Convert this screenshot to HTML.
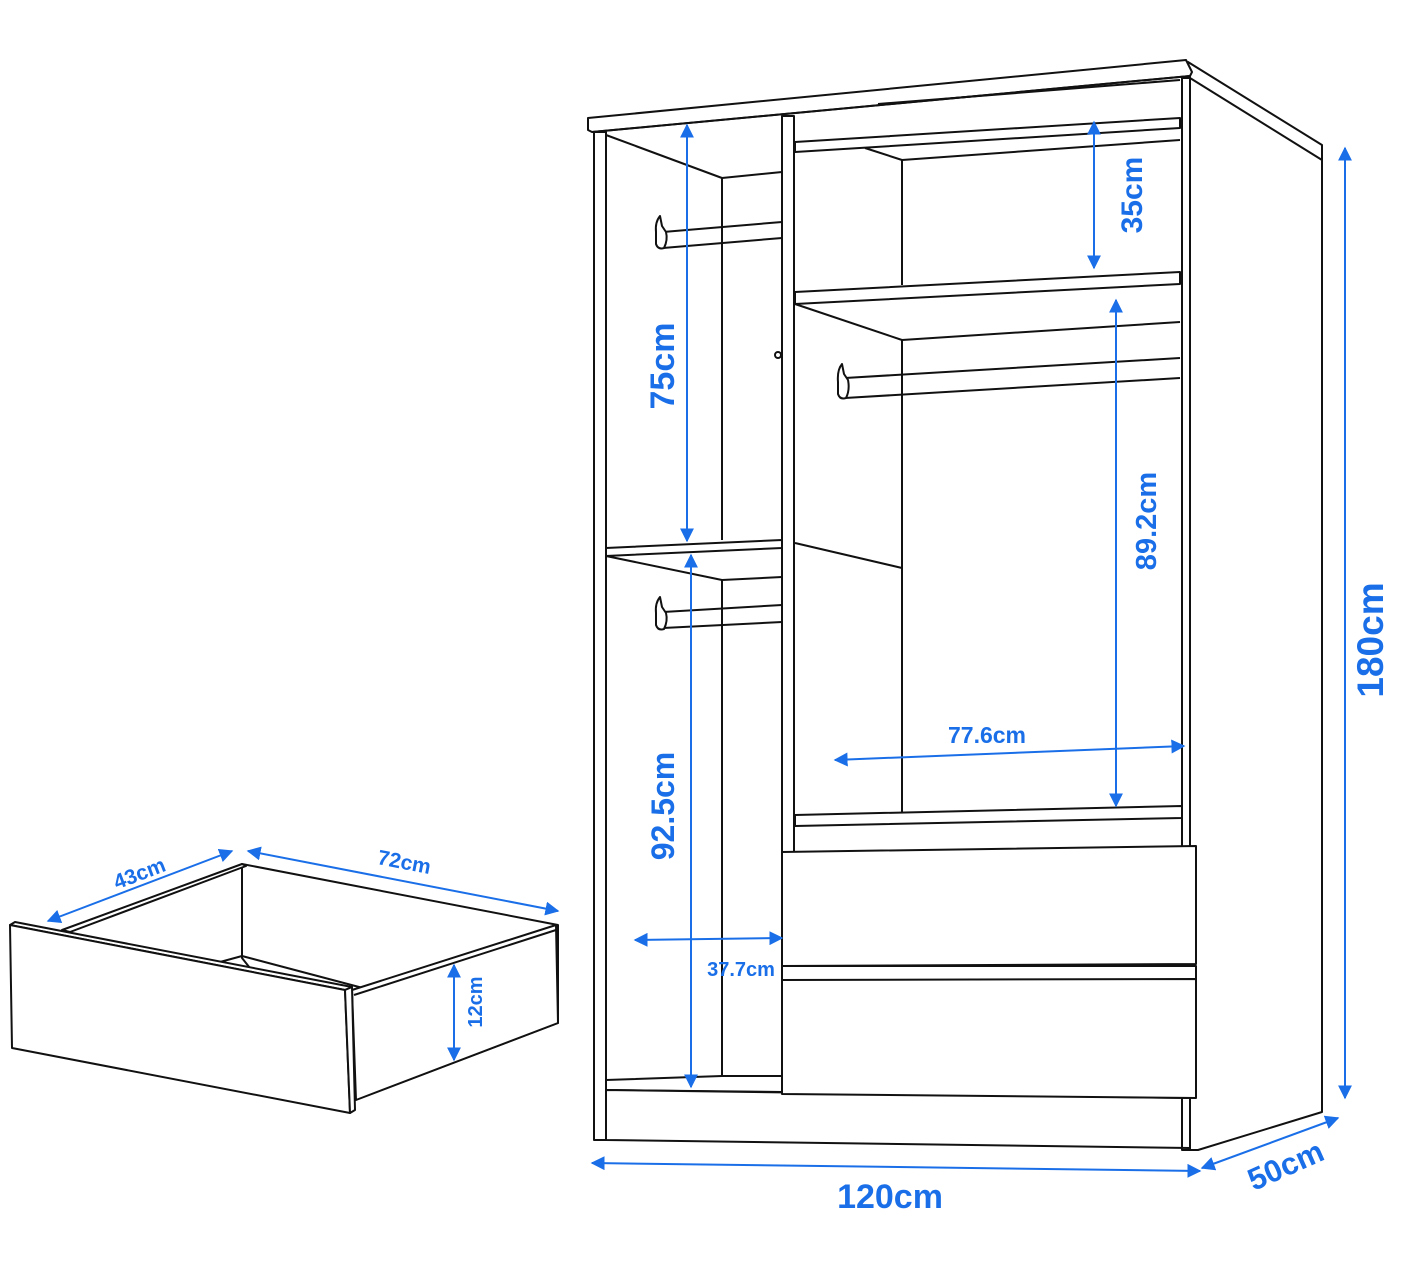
<!DOCTYPE html>
<html><head><meta charset="utf-8"><style>
html,body{margin:0;padding:0;background:#fff;}
svg{display:block;}
.l{stroke:#111;stroke-width:2;fill:none;stroke-linejoin:round;}
.w{stroke:#111;stroke-width:2;fill:#fff;stroke-linejoin:round;}
.b{stroke:#1a6fe8;stroke-width:2;fill:none;}
text{font-family:"Liberation Sans",sans-serif;font-weight:bold;fill:#1a6fe8;}
</style></head><body>
<svg width="1406" height="1265" viewBox="0 0 1406 1265" xmlns="http://www.w3.org/2000/svg">
<defs>
<marker id="a" viewBox="0 0 10 10" refX="9" refY="5" markerWidth="7" markerHeight="7" orient="auto-start-reverse"><path d="M0,0 L10,5 L0,10 z" fill="#1a6fe8"/></marker>
</defs>
<polygon class="w" points="1188,62 1322,145 1322,1112 1198,1150 1190,1150 1190,78"/>
<line class="l" x1="1190" y1="78" x2="1322" y2="160"/>
<polygon class="w" points="588,118 1186,60 1192,72 1190,76 592,132 588,130"/>
<line class="l" x1="592" y1="132" x2="1190" y2="76"/>
<line class="l" x1="878" y1="104" x2="1180" y2="80"/>
<rect class="w" x="594" y="132" width="12" height="1008"/>
<rect class="w" x="1182" y="78" width="8" height="1072"/>
<rect class="w" x="782" y="116" width="12" height="976"/>
<line class="l" x1="606" y1="135" x2="722" y2="178"/>
<line class="l" x1="722" y1="178" x2="782" y2="172"/>
<line class="l" x1="722" y1="178" x2="722" y2="540"/>
<line class="l" x1="722" y1="580" x2="722" y2="1076"/>
<path class="l" d="M663,232 L782,222 M663,248 L782,238"/>
<path class="w" d="M660,216 Q655,222 656,232 L656,244 Q658,250 664,248 Q668,240 666,232 L662,226 Z"/>
<polygon class="w" points="606,548 782,540 782,548 606,556"/>
<line class="l" x1="606" y1="556" x2="722" y2="580"/>
<line class="l" x1="722" y1="580" x2="782" y2="577"/>
<path class="l" d="M663,612 L782,605 M663,628 L782,622"/>
<path class="w" d="M660,597 Q655,603 656,613 L656,625 Q658,631 664,629 Q668,621 666,613 L662,607 Z"/>
<polygon class="w" points="606,1080 722,1076 782,1076 782,1092 606,1090"/>
<polygon class="w" points="606,1090 1190,1098 1190,1148 606,1140"/>
<line class="l" x1="1182" y1="1098" x2="1182" y2="1148"/>
<polygon class="w" points="795,142 1180,118 1180,128 795,152"/>
<line class="l" x1="865" y1="148" x2="902" y2="160"/>
<line class="l" x1="902" y1="160" x2="1180" y2="140"/>
<line class="l" x1="902" y1="160" x2="902" y2="285"/>
<polygon class="w" points="795,292 1180,272 1180,284 795,304"/>
<line class="l" x1="795" y1="304" x2="902" y2="340"/>
<line class="l" x1="902" y1="340" x2="1180" y2="322"/>
<line class="l" x1="902" y1="340" x2="902" y2="812"/>
<path class="l" d="M845,378 L1180,358 M845,398 L1180,378"/>
<path class="w" d="M842,364 Q837,370 838,382 L838,394 Q840,400 846,398 Q850,390 848,380 L844,374 Z"/>
<line class="l" x1="795" y1="543" x2="902" y2="568"/>
<polygon class="w" points="795,815 1182,806 1182,818 795,826"/>
<polygon class="w" points="782,852 1196,846 1196,964 782,966"/>
<rect class="w" x="782" y="966" width="414" height="14"/>
<polygon class="w" points="782,980 1196,979 1196,1098 782,1094"/>
<circle cx="778" cy="355" r="3" class="l"/>

<polygon class="w" points="242,864 558,925 558,1023 355,1100 242,958"/>
<line class="l" x1="242" y1="864" x2="242" y2="958"/>
<polygon class="w" points="62,930 242,864 246,866 70,932"/>
<line class="l" x1="220" y1="962" x2="242" y2="956"/>
<line class="l" x1="242" y1="956" x2="393" y2="996"/>
<polygon class="w" points="352,990 556,925 558,1023 356,1100"/>
<line class="l" x1="354" y1="995" x2="556" y2="930"/>
<polygon class="w" points="10,925 15,922 352,987 345,990"/>
<polygon class="w" points="10,925 345,990 350,1113 12,1048"/>
<polygon class="w" points="345,990 352,987 355,1110 350,1113"/>

<g marker-start="url(#a)" marker-end="url(#a)">
<line class="b" x1="48" y1="921" x2="232" y2="851"/>
<line class="b" x1="248" y1="851" x2="558" y2="911"/>
<line class="b" x1="454" y1="965" x2="454" y2="1060"/>
<line class="b" x1="687" y1="125" x2="687" y2="541"/>
<line class="b" x1="691" y1="555" x2="691" y2="1087"/>
<line class="b" x1="1094" y1="122" x2="1094" y2="268"/>
<line class="b" x1="1116" y1="300" x2="1116" y2="806"/>
<line class="b" x1="835" y1="760" x2="1184" y2="746"/>
<line class="b" x1="635" y1="940" x2="782" y2="938"/>
<line class="b" x1="1345" y1="148" x2="1345" y2="1098"/>
<line class="b" x1="592" y1="1163" x2="1200" y2="1171"/>
<line class="b" x1="1202" y1="1168" x2="1338" y2="1118"/>
</g>
<text x="142" y="880" font-size="21" text-anchor="middle" transform="rotate(-21 142 880)">43cm</text>
<text x="403" y="869" font-size="21" text-anchor="middle" transform="rotate(11 403 869)">72cm</text>
<text x="482" y="1002" font-size="20" text-anchor="middle" transform="rotate(-90 482 1002)">12cm</text>
<text x="674" y="366" font-size="34" text-anchor="middle" transform="rotate(-90 674 366)">75cm</text>
<text x="674" y="806" font-size="32" text-anchor="middle" transform="rotate(-90 674 806)">92.5cm</text>
<text x="1142" y="195" font-size="30" text-anchor="middle" transform="rotate(-90 1142 195)">35cm</text>
<text x="1156" y="521" font-size="29" text-anchor="middle" transform="rotate(-90 1156 521)">89.2cm</text>
<text x="987" y="743" font-size="23" text-anchor="middle">77.6cm</text>
<text x="741" y="976" font-size="20" text-anchor="middle">37.7cm</text>
<text x="1383" y="640" font-size="37" text-anchor="middle" transform="rotate(-90 1383 640)">180cm</text>
<text x="890" y="1208" font-size="34" text-anchor="middle">120cm</text>
<text x="1290" y="1175" font-size="31" text-anchor="middle" transform="rotate(-24 1290 1175)">50cm</text>
</svg>
</body></html>
